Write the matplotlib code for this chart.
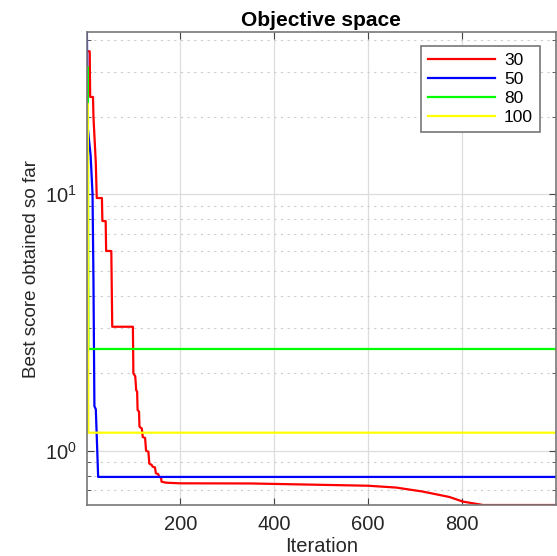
import matplotlib
matplotlib.use("Agg")
import matplotlib.pyplot as plt
from matplotlib.ticker import LogLocator, NullFormatter, FixedLocator

plt.rcParams['font.family'] = ['Liberation Sans', 'DejaVu Sans']
plt.rcParams['mathtext.fontset'] = 'custom'
plt.rcParams['mathtext.rm'] = 'Liberation Sans'
plt.rcParams['mathtext.it'] = 'Liberation Sans:italic'

# convergence curves (iteration, best score) corner points, one per population size
iter_30 = [1, 7, 8, 14, 15, 20, 22, 33, 34, 41, 42, 53, 55, 99, 100, 104, 106, 108,
           109, 112, 113, 118, 120, 125, 127, 132, 134, 139, 141, 146, 148, 153,
           155, 159, 160, 170, 200, 350, 600, 660, 716, 773, 802, 845, 1000]
best_30 = [36.0, 36.0, 23.9, 23.9, 20.0, 13.2, 9.65, 9.65, 7.85, 7.85, 6.0, 6.0,
           3.04, 3.04, 2.0, 1.95, 1.72, 1.70, 1.44, 1.42, 1.24, 1.22, 1.13, 1.12,
           1.0, 0.99, 0.89, 0.88, 0.866, 0.86, 0.816, 0.81, 0.79, 0.785, 0.757,
           0.75, 0.746, 0.745, 0.73, 0.718, 0.693, 0.66, 0.633, 0.614, 0.614]

iter_50 = [1, 3, 9, 13, 15, 17, 20, 25, 1000]
best_50 = [42.8, 18.0, 14.1, 10.0, 4.6, 1.49, 1.45, 0.79, 0.79]

iter_80 = [1, 3, 4, 1000]
best_80 = [31.3, 31.3, 2.49, 2.49]

iter_100 = [1, 3, 4, 1000]
best_100 = [22.5, 22.5, 1.175, 1.175]

labels = ['30', '50', '80', '100']
colors = ['#ff0000', '#0000ff', '#00ff00', '#ffff00']

fig = plt.figure(figsize=(5.57, 5.56), dpi=100)
ax = fig.add_axes([0.156, 0.0917, 0.842, 0.8507])

series = [(iter_30, best_30), (iter_50, best_50), (iter_80, best_80), (iter_100, best_100)]
for (xs, ys), lab, col in zip(series, labels, colors):
    ax.semilogy(xs, ys, color=col, lw=1.6, label=lab)

ax.set_xlim(1, 1000)
ax.set_ylim(min(best_30), max(best_50))
ax.xaxis.set_major_locator(FixedLocator([200, 400, 600, 800]))
ax.yaxis.set_major_locator(LogLocator(base=10))
ax.yaxis.set_minor_locator(LogLocator(base=10, subs=range(2, 10)))
ax.yaxis.set_minor_formatter(NullFormatter())

# MATLAB-like grid: solid majors, dotted y minors
ax.grid(True, which='major', color='#dddddd', lw=0.9, ls='-')
ax.grid(True, which='minor', axis='y', color='#cccccc', lw=0.8, ls=(0, (2, 4)))
ax.set_axisbelow(True)

ax.tick_params(which='both', direction='in', top=True, right=True, color='#444444')
ax.tick_params(which='major', length=5, labelsize=14.5, labelcolor='#262626', pad=7)
ax.tick_params(which='minor', length=3)
for sp in ax.spines.values():
    sp.set_color('#777777')
    sp.set_linewidth(1.2)

ax.set_title('Objective space', fontsize=15, fontweight='bold', pad=4)
ax.set_xlabel('Iteration', fontsize=14.5, color='#262626', labelpad=2)
ax.set_ylabel('Best score obtained so far', fontsize=13.6, color='#262626', labelpad=4)

leg = ax.legend(loc='upper right', bbox_to_anchor=(0.966, 0.970), borderaxespad=0,
                fontsize=12.5, fancybox=False, framealpha=1, edgecolor='#777777',
                handlelength=3.9, handletextpad=0.5, labelspacing=0.22,
                borderpad=0.4)
leg.get_frame().set_linewidth(1.2)

fig.savefig('out.png', dpi=100)
